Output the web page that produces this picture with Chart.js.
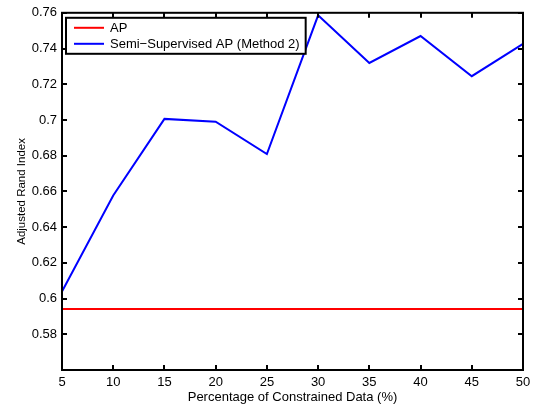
<!DOCTYPE html>
<html><head><meta charset="utf-8">
<script src="https://cdn.jsdelivr.net/npm/chart.js@4/dist/chart.umd.min.js"></script>
<style>html,body{margin:0;padding:0;background:#fff}#wrap{width:536px;height:407px}</style>
</head><body><div id="wrap"><canvas id="c" width="536" height="407"></canvas></div>
<script>
const percentages = [5, 10, 15, 20, 25, 30, 35, 40, 45, 50];
const apValues = [0.5941, 0.5941, 0.5941, 0.5941, 0.5941, 0.5941, 0.5941, 0.5941, 0.5941, 0.5941];
const semiValues = [0.6039, 0.6577, 0.7006, 0.6990, 0.6809, 0.7586, 0.7319, 0.7470, 0.7245, 0.7426];
const seriesLabels = ['AP', 'Semi\u2212Supervised AP (Method 2)'];
const xTitle = 'Percentage of Constrained Data (%)';
const yTitle = 'Adjusted Rand Index';

const FONT = 'Liberation Sans, Arial, Helvetica, sans-serif';

const boxPlugin = {
  id: 'matlabBox',
  afterDatasetsDraw(chart) {
    const ctx = chart.ctx, a = chart.chartArea;
    const xs = chart.scales.x, ys = chart.scales.y;
    ctx.save();
    ctx.strokeStyle = '#000';
    ctx.lineWidth = 2;
    ctx.strokeRect(a.left, a.top, a.right - a.left, a.bottom - a.top);
    const L = 5;
    ctx.beginPath();
    xs.ticks.forEach(t => {
      const p = Math.round(xs.getPixelForValue(t.value));
      ctx.moveTo(p, a.bottom); ctx.lineTo(p, a.bottom - L);
      ctx.moveTo(p, a.top); ctx.lineTo(p, a.top + L);
    });
    ys.ticks.forEach(t => {
      const p = Math.round(ys.getPixelForValue(t.value));
      ctx.moveTo(a.left, p); ctx.lineTo(a.left + L, p);
      ctx.moveTo(a.right, p); ctx.lineTo(a.right - L, p);
    });
    ctx.stroke();
    // legend
    ctx.font = '13px ' + FONT;
    const bx = a.left + 4, by = a.top + 5;
    const lineX0 = bx + 8, lineX1 = bx + 38, textX = bx + 44;
    let maxW = 0;
    chart.data.datasets.forEach(d => { maxW = Math.max(maxW, ctx.measureText(d.label).width); });
    const bw = textX + maxW + 6 - bx, bh = 36;
    ctx.fillStyle = '#fff';
    ctx.fillRect(bx, by, bw, bh);
    ctx.lineWidth = 2;
    ctx.strokeStyle = '#000';
    ctx.strokeRect(bx, by, bw, bh);
    chart.data.datasets.forEach((d, i) => {
      const yy = by + 10 + i * 16;
      ctx.strokeStyle = d.borderColor;
      ctx.lineWidth = 2;
      ctx.beginPath(); ctx.moveTo(lineX0, yy); ctx.lineTo(lineX1, yy); ctx.stroke();
      ctx.fillStyle = '#000';
      ctx.textBaseline = 'middle';
      ctx.fillText(d.label, textX, yy + 1);
    });
    ctx.restore();
  }
};

new Chart(document.getElementById('c'), {
  type: 'line',
  data: {
    datasets: [
      { label: seriesLabels[0], data: percentages.map((x, i) => ({x, y: apValues[i]})), borderColor: '#ff0000', borderWidth: 2, pointRadius: 0, tension: 0 },
      { label: seriesLabels[1], data: percentages.map((x, i) => ({x, y: semiValues[i]})), borderColor: '#0000ff', borderWidth: 2, pointRadius: 0, tension: 0 }
    ]
  },
  options: {
    responsive: false,
    animation: false,
    devicePixelRatio: 1,
    clip: false,
    layout: { padding: { top: 7, right: 13, left: 0, bottom: 0 } },
    plugins: { legend: { display: false }, tooltip: { enabled: false } },
    scales: {
      x: {
        type: 'linear', min: 5, max: 50,
        afterFit(s) { s.height = 37; },
        ticks: { stepSize: 5, color: '#000', font: { family: FONT, size: 13 }, padding: 5, maxRotation: 0 },
        grid: { display: false, drawTicks: false },
        border: { display: false },
        title: { display: true, text: xTitle, color: '#000', font: { family: FONT, size: 13 }, padding: { top: 0, bottom: 2 } }
      },
      y: {
        type: 'linear', min: 0.56, max: 0.76,
        afterFit(s) { s.width = 62; },
        ticks: { stepSize: 0.02, color: '#000', font: { family: FONT, size: 13 }, padding: 5,
          callback: v => (Math.abs(v - 0.56) < 1e-9 ? '' : String(+v.toFixed(2))) },
        grid: { display: false, drawTicks: false },
        border: { display: false },
        title: { display: true, text: yTitle, color: '#000', font: { family: FONT, size: 11.5 }, padding: { top: 15, bottom: 0 } }
      }
    }
  },
  plugins: [boxPlugin]
});
</script>
</body></html>
